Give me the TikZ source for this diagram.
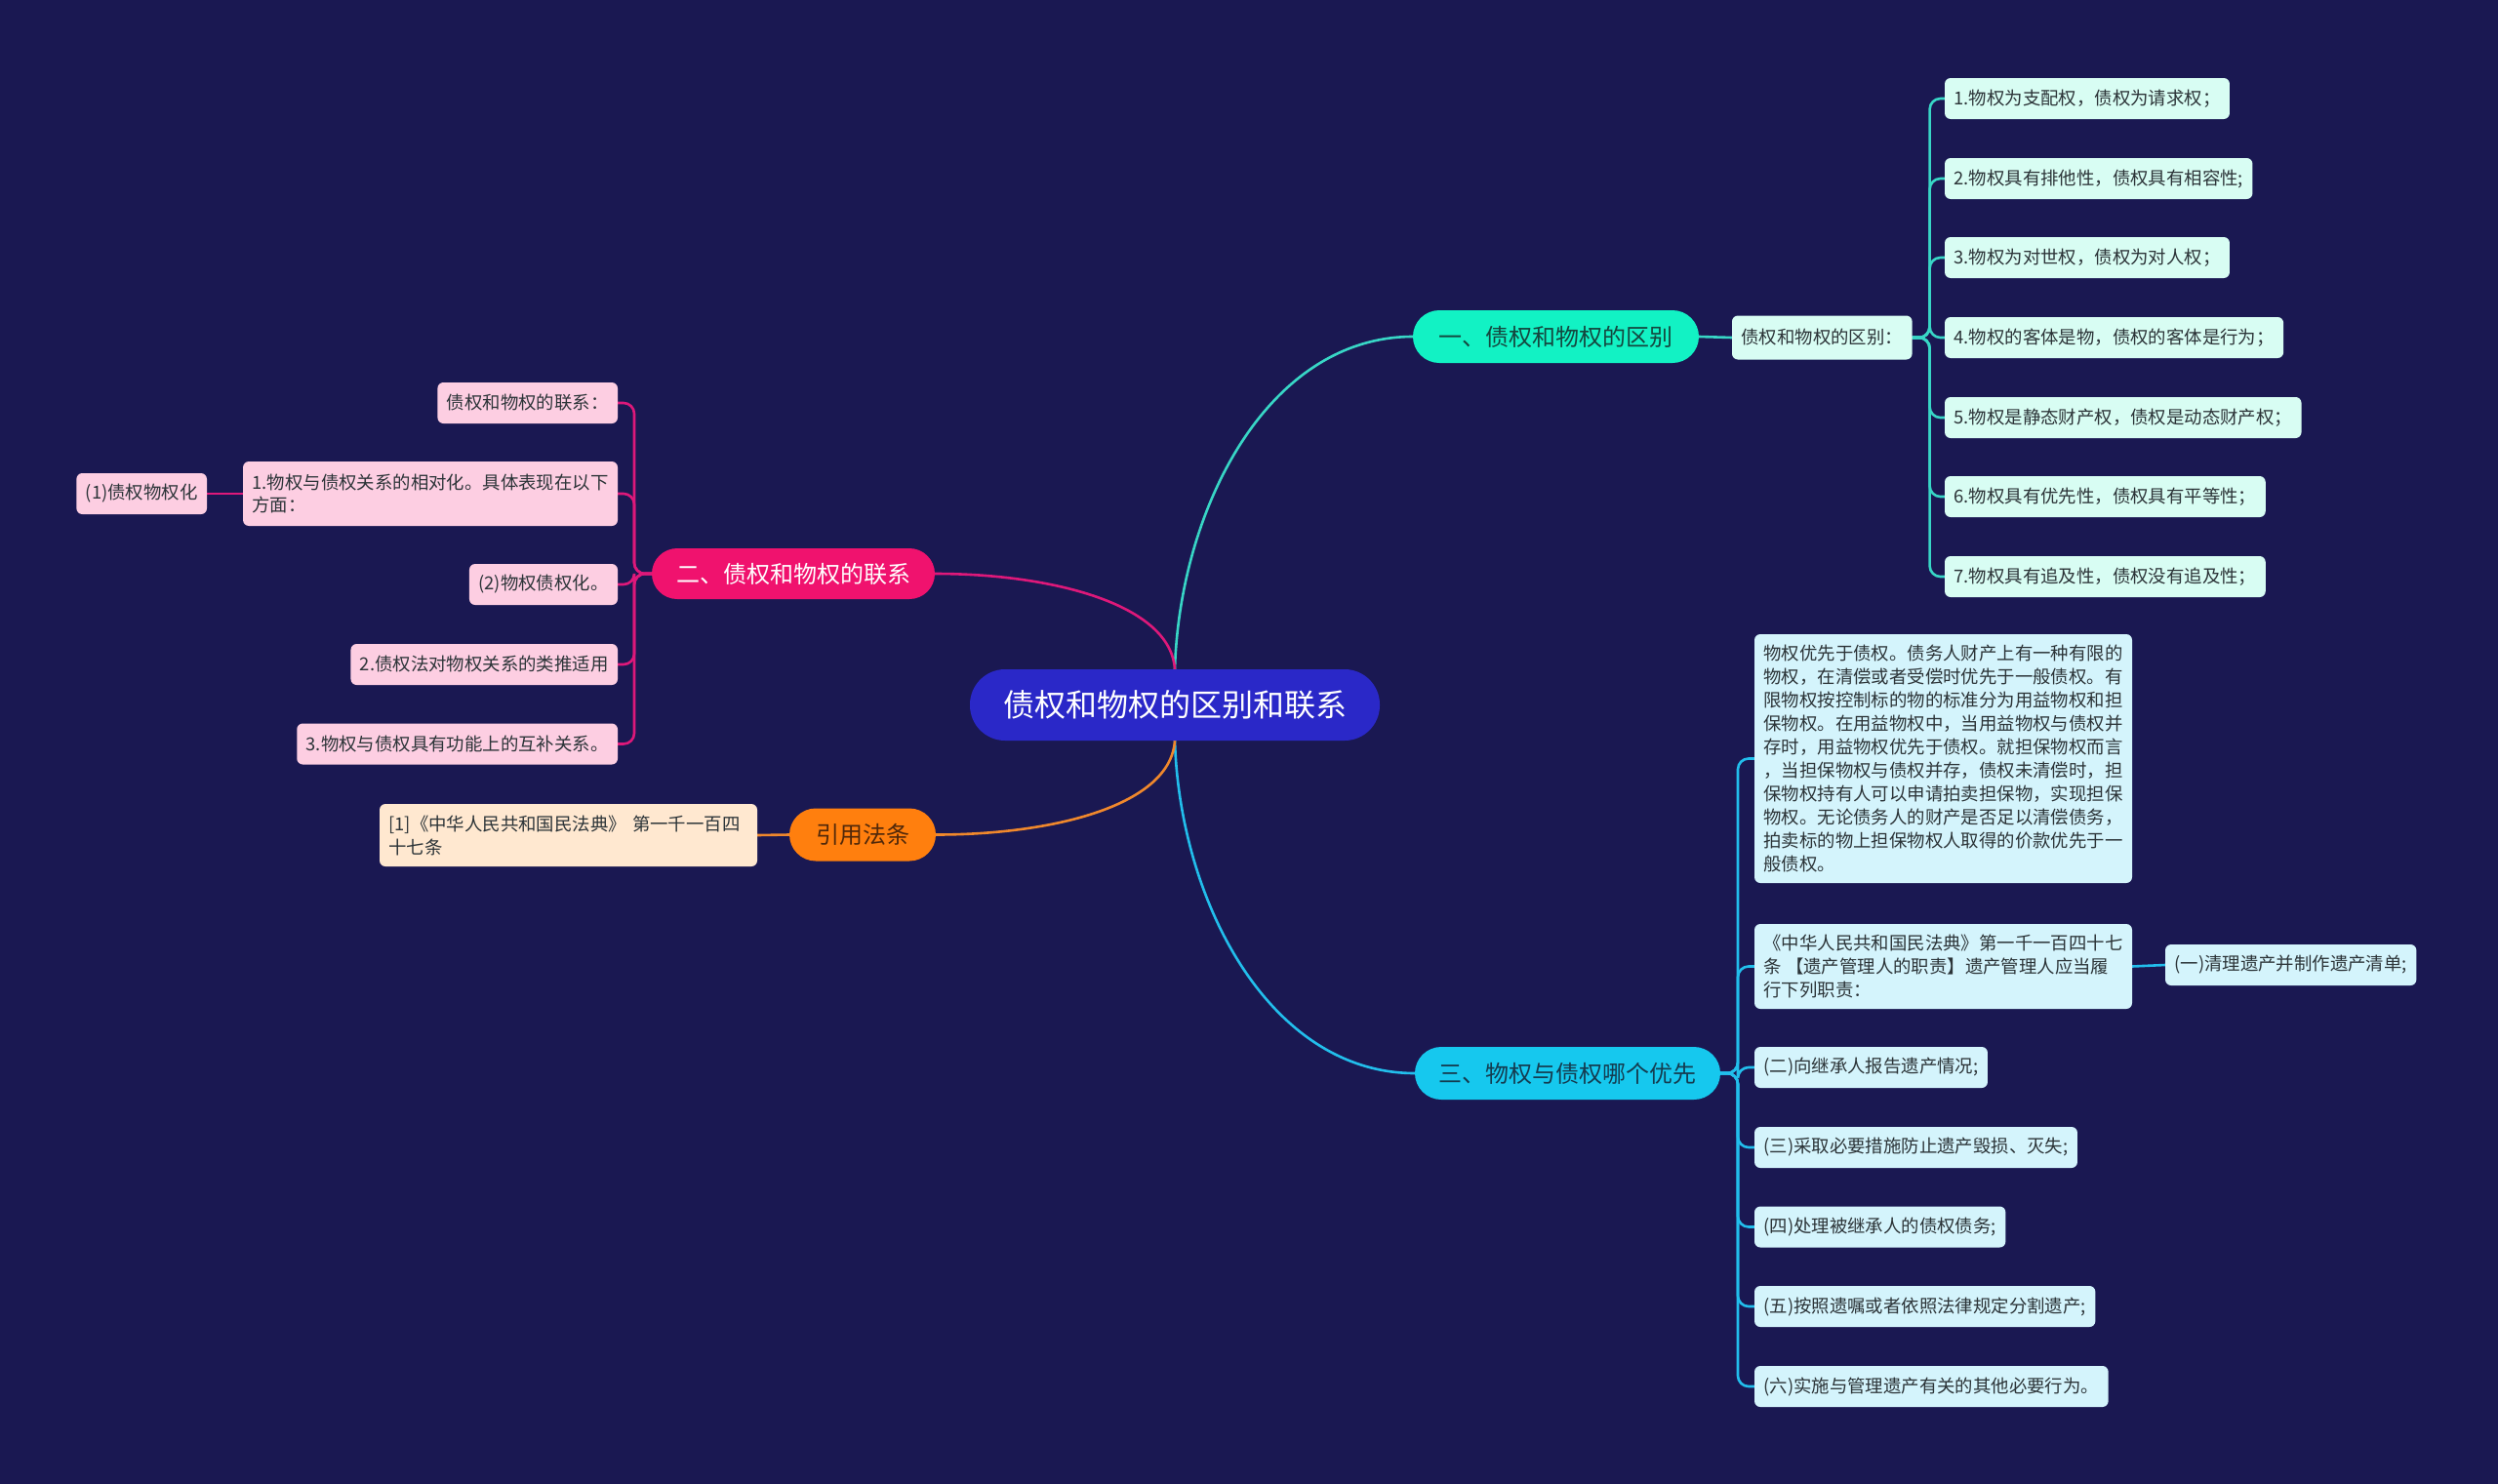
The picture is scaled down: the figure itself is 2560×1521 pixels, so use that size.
\documentclass[tikz,border=0pt]{standalone}
\usepackage{fontspec}
\setmainfont{Noto Sans CJK SC}
\definecolor{bgc}{RGB}{26,24,82}
\definecolor{rootc}{RGB}{42,40,200}
\definecolor{mintc}{RGB}{18,242,196}
\definecolor{mintl}{RGB}{56,214,198}
\definecolor{mintleaf}{RGB}{216,253,243}
\definecolor{pinkc}{RGB}{240,18,110}
\definecolor{pinkl}{RGB}{222,24,122}
\definecolor{pinkleaf}{RGB}{253,206,226}
\definecolor{orac}{RGB}{255,127,14}
\definecolor{oral}{RGB}{240,136,44}
\definecolor{oraleaf}{RGB}{255,232,208}
\definecolor{cyanc}{RGB}{22,200,238}
\definecolor{cyanl}{RGB}{34,190,236}
\definecolor{cyanleaf}{RGB}{212,244,252}
\definecolor{leaftext}{RGB}{44,52,56}
\pgfdeclarelayer{bg}
\pgfsetlayers{bg,main}
\begin{document}
\begin{tikzpicture}[x=1pt,y=-1pt,
  every node/.style={inner sep=0pt,outer sep=0pt},
  leaf/.style={rounded corners=6pt,inner xsep=9.5pt,inner ysep=0pt,minimum height=42pt,align=left,
    font=\fontsize{18.4}{23.9}\selectfont,text=leaftext},
  topic/.style={rounded corners=27pt,minimum height=54pt,font=\fontsize{24}{28}\selectfont},
  conn/.style={line width=2.6pt},
  tree/.style={line width=2.6pt,rounded corners=11pt}
]
\begin{pgfonlayer}{bg}
\fill[bgc] (0,0) rectangle (2560,1521);
\end{pgfonlayer}
\useasboundingbox (0,0) rectangle (2560,1521);

% root
\node[fill=rootc,rounded corners=36pt,minimum width=420pt,minimum height=73pt,
  text=white,font=\fontsize{32}{36}\selectfont] (root) at (1204,722.5) {债权和物权的区别和联系};

% main topics
\node[topic,fill=mintc,text={rgb,255:red,20;green,70;blue,62},minimum width=293pt] (b1) at (1594.5,345) {一、债权和物权的区别};
\node[topic,fill=pinkc,text=white,minimum width=290pt,minimum height=52pt,rounded corners=26pt] (b2) at (813,588) {二、债权和物权的联系};
\node[topic,fill=orac,text={rgb,255:red,80;green,40;blue,10},minimum width=150pt,minimum height=54pt] (b4) at (884,855.5) {引用法条};
\node[topic,fill=cyanc,text={rgb,255:red,20;green,60;blue,80},minimum width=313pt] (b3) at (1606.5,1100) {三、物权与债权哪个优先};

% branch 1
\node[leaf,fill=mintleaf,anchor=west,minimum height=45pt] (q0) at (1775,346) {债权和物权的区别：};
\node[leaf,fill=mintleaf,anchor=west] (q1) at (1993,101) {1.物权为支配权，债权为请求权；};
\node[leaf,fill=mintleaf,anchor=west] (q2) at (1993,183) {2.物权具有排他性，债权具有相容性;};
\node[leaf,fill=mintleaf,anchor=west] (q3) at (1993,264) {3.物权为对世权，债权为对人权；};
\node[leaf,fill=mintleaf,anchor=west] (q4) at (1993,346) {4.物权的客体是物，债权的客体是行为；};
\node[leaf,fill=mintleaf,anchor=west] (q5) at (1993,428) {5.物权是静态财产权，债权是动态财产权；};
\node[leaf,fill=mintleaf,anchor=west] (q6) at (1993,509) {6.物权具有优先性，债权具有平等性；};
\node[leaf,fill=mintleaf,anchor=west] (q7) at (1993,591) {7.物权具有追及性，债权没有追及性；};

% branch 2
\node[leaf,fill=pinkleaf,anchor=east] (p1) at (633,413) {债权和物权的联系：};
\node[leaf,fill=pinkleaf,anchor=east,minimum height=66pt] (p2) at (633,506) {1.物权与债权关系的相对化。具体表现在以下\\方面：};
\node[leaf,fill=pinkleaf,anchor=east] (p2a) at (212,506) {(1)债权物权化};
\node[leaf,fill=pinkleaf,anchor=east] (p3) at (633,599) {(2)物权债权化。};
\node[leaf,fill=pinkleaf,anchor=east] (p4) at (633,681) {2.债权法对物权关系的类推适用};
\node[leaf,fill=pinkleaf,anchor=east] (p5) at (633,762.5) {3.物权与债权具有功能上的互补关系。};

% citation
\node[leaf,fill=oraleaf,anchor=east,minimum height=64pt,text width=368pt] (o1) at (776,856) {[1]《中华人民共和国民法典》 第一千一百四\\十七条};

% branch 3
\node[leaf,fill=cyanleaf,anchor=west,minimum height=255pt] (c1) at (1798,777.5) {物权优先于债权。债务人财产上有一种有限的\\物权，在清偿或者受偿时优先于一般债权。有\\限物权按控制标的物的标准分为用益物权和担\\保物权。在用益物权中，当用益物权与债权并\\存时，用益物权优先于债权。就担保物权而言\\，当担保物权与债权并存，债权未清偿时，担\\保物权持有人可以申请拍卖担保物，实现担保\\物权。无论债务人的财产是否足以清偿债务，\\拍卖标的物上担保物权人取得的价款优先于一\\般债权。};
\node[leaf,fill=cyanleaf,anchor=west,minimum height=87pt] (c2) at (1798,990.5) {《中华人民共和国民法典》第一千一百四十七\\条 【遗产管理人的职责】遗产管理人应当履\\行下列职责：};
\node[leaf,fill=cyanleaf,anchor=west] (c2a) at (2219,989) {(一)清理遗产并制作遗产清单;};
\node[leaf,fill=cyanleaf,anchor=west] (c3) at (1798,1094) {(二)向继承人报告遗产情况;};
\node[leaf,fill=cyanleaf,anchor=west] (c4) at (1798,1176) {(三)采取必要措施防止遗产毁损、灭失;};
\node[leaf,fill=cyanleaf,anchor=west] (c5) at (1798,1257.5) {(四)处理被继承人的债权债务;};
\node[leaf,fill=cyanleaf,anchor=west] (c6) at (1798,1339) {(五)按照遗嘱或者依照法律规定分割遗产;};
\node[leaf,fill=cyanleaf,anchor=west] (c7) at (1798,1421) {(六)实施与管理遗产有关的其他必要行为。};

\begin{pgfonlayer}{bg}
% root connectors
\draw[conn,mintl] (root.north) .. controls +(5,-166) and +(-148,0) .. (b1.west);
\draw[conn,cyanl] (root.south) .. controls +(5,166) and +(-148,0) .. (b3.west);
\draw[conn,pinkl] (root.north) .. controls +(-4,-66) and +(122,0) .. (b2.east);
\draw[conn,oral] (root.south) .. controls +(-4,66) and +(122,0) .. (b4.east);
% branch 1
\draw[conn,mintl] (b1.east) -- (q0.west);
\foreach \n in {q1,q2,q3,q4,q5,q6,q7}
  \draw[tree,mintl] (q0.east) -- ++(18,0) |- (\n.west);
% branch 2
\foreach \n in {p1,p2,p3,p4,p5}
  \draw[tree,pinkl] (b2.west) -- ++(-18,0) |- (\n.east);
\draw[conn,pinkl] (p2.west) -- (p2a.east);
% citation
\draw[conn,oral] (b4.west) -- (o1.east);
% branch 3
\foreach \n in {c1,c2,c3,c4,c5,c6,c7}
  \draw[tree,cyanl] (b3.east) -- ++(18,0) |- (\n.west);
\draw[conn,cyanl] (c2.east) -- (c2a.west);
\end{pgfonlayer}
\end{tikzpicture}
\end{document}
